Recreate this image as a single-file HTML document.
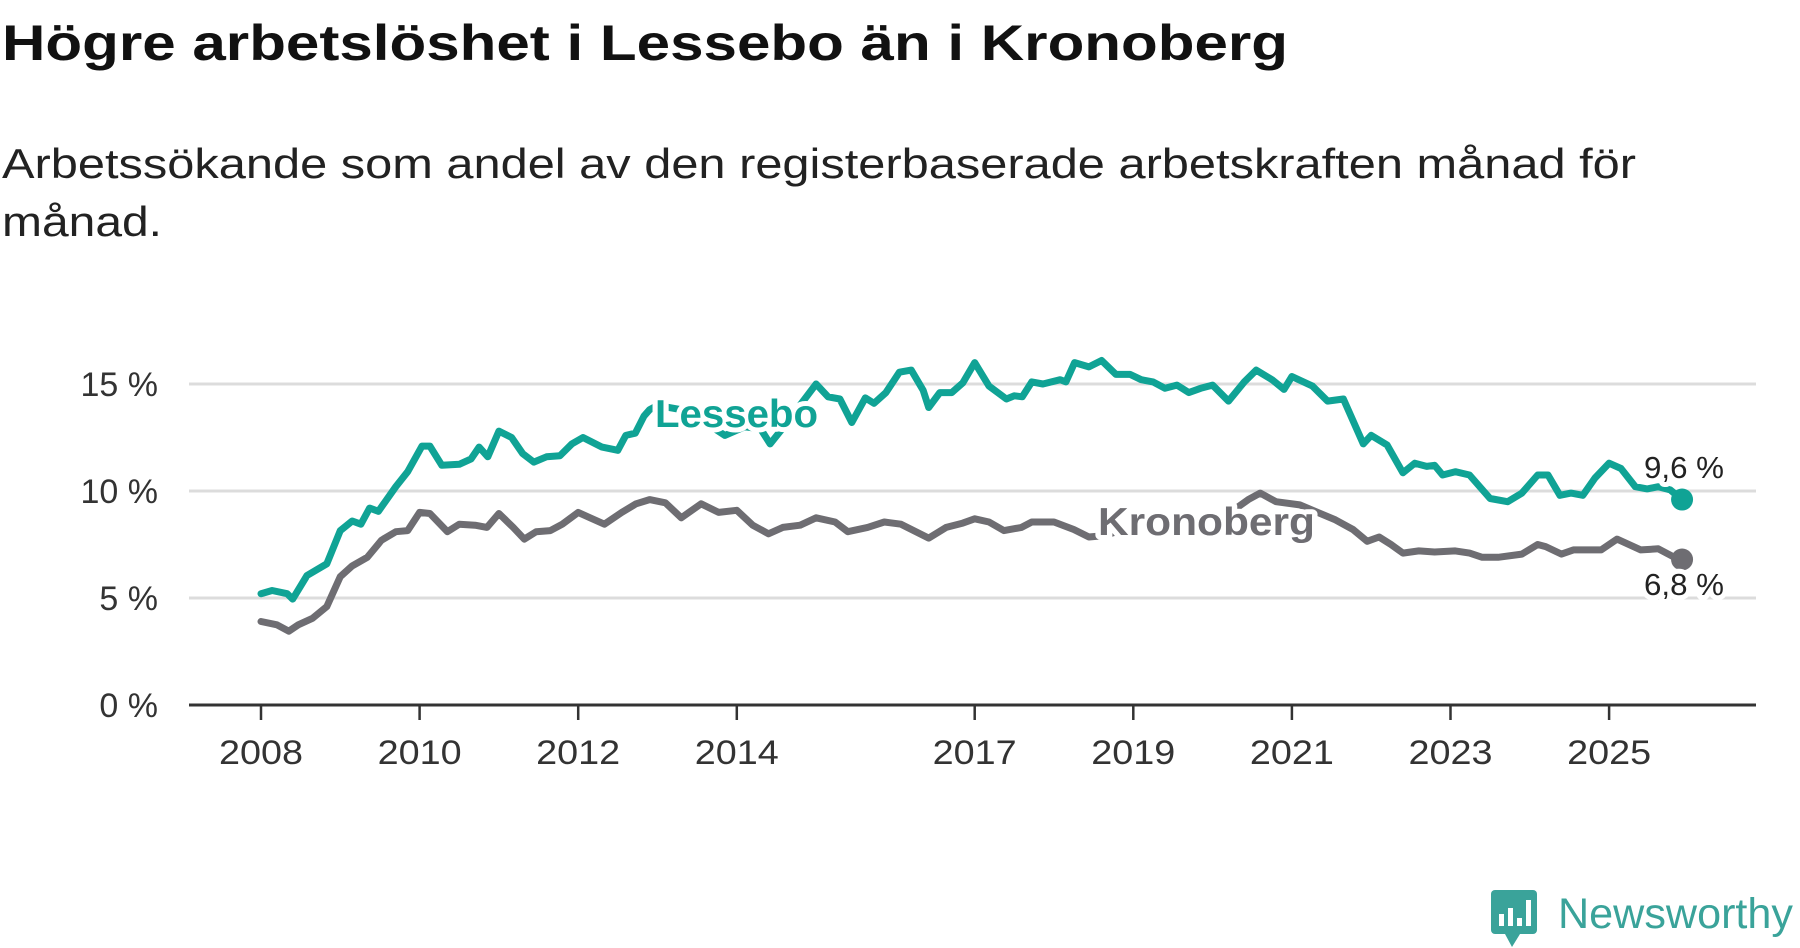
<!DOCTYPE html>
<html><head><meta charset="utf-8"><style>
html,body{margin:0;padding:0;background:#fff;}
svg{display:block;font-family:"Liberation Sans",sans-serif;}
</style></head><body>
<svg id="chart" width="1800" height="948" viewBox="0 0 1800 948">
<text x="2" y="60" font-size="50" font-weight="bold" fill="#111" textLength="1286" lengthAdjust="spacingAndGlyphs">Högre arbetslöshet i Lessebo än i Kronoberg</text>
<text x="2" y="178" font-size="42" fill="#222" textLength="1634" lengthAdjust="spacingAndGlyphs">Arbetssökande som andel av den registerbaserade arbetskraften månad för</text>
<text x="2" y="236" font-size="42" fill="#222" textLength="160" lengthAdjust="spacingAndGlyphs">månad.</text>
<g id="grid"></g><g id="axes"></g><g id="lines"></g><g id="labels"></g>
<g>
<rect x="1491" y="890" width="46" height="44" rx="4" fill="#3aa39a"/>
<polygon points="1505,934 1520,934 1512,947" fill="#3aa39a"/>
<rect x="1499" y="914" width="5" height="12" fill="#fff"/><rect x="1508" y="908" width="5" height="18" fill="#fff"/><rect x="1517" y="918" width="5" height="8" fill="#fff"/><rect x="1526" y="900" width="5" height="26" fill="#fff"/>
<text x="1558" y="928" font-size="43" fill="#3aa39a" textLength="235" lengthAdjust="spacingAndGlyphs">Newsworthy</text>
</g>
</svg>
<script>
const yTicks=[0,5,10,15];
const yTickLabels=["0 %","5 %","10 %","15 %"];
const xTicks=[2008,2010,2012,2014,2017,2019,2021,2023,2025];
const lesseboDates=[2008.0,2008.14,2008.33,2008.4,2008.58,2008.83,2009.0,2009.15,2009.26,2009.37,2009.48,2009.7,2009.85,2010.03,2010.13,2010.28,2010.5,2010.65,2010.75,2010.86,2011.0,2011.16,2011.3,2011.44,2011.6,2011.77,2011.92,2012.06,2012.3,2012.5,2012.6,2012.72,2012.83,2012.9,2013.0,2013.3,2013.6,2013.85,2014.1,2014.3,2014.42,2014.55,2015.0,2015.15,2015.3,2015.45,2015.62,2015.73,2015.88,2016.05,2016.2,2016.35,2016.42,2016.56,2016.71,2016.85,2017.0,2017.18,2017.4,2017.5,2017.6,2017.72,2017.86,2018.08,2018.15,2018.26,2018.44,2018.6,2018.78,2018.96,2019.1,2019.25,2019.4,2019.55,2019.7,2019.85,2020.0,2020.2,2020.4,2020.55,2020.75,2020.9,2021.0,2021.26,2021.45,2021.65,2021.9,2022.0,2022.2,2022.4,2022.55,2022.7,2022.8,2022.9,2023.06,2023.24,2023.5,2023.72,2023.9,2024.1,2024.23,2024.38,2024.52,2024.67,2024.82,2025.0,2025.15,2025.33,2025.48,2025.62,2025.77,2025.92];
const lesseboValues=[5.2,5.35,5.2,4.95,6.05,6.6,8.15,8.6,8.45,9.2,9.05,10.2,10.9,12.1,12.1,11.2,11.25,11.5,12.05,11.6,12.8,12.5,11.75,11.35,11.6,11.65,12.2,12.5,12.05,11.9,12.6,12.7,13.5,13.8,14.0,13.8,13.2,12.6,13.0,12.9,12.2,12.8,15.0,14.4,14.3,13.2,14.35,14.1,14.6,15.55,15.65,14.7,13.9,14.6,14.6,15.05,16.0,14.9,14.3,14.45,14.4,15.1,15.0,15.2,15.1,16.0,15.8,16.1,15.45,15.45,15.2,15.1,14.8,14.95,14.6,14.8,14.95,14.2,15.1,15.65,15.2,14.75,15.35,14.9,14.2,14.3,12.2,12.6,12.15,10.85,11.3,11.15,11.2,10.75,10.9,10.75,9.65,9.5,9.9,10.75,10.75,9.8,9.9,9.8,10.6,11.3,11.05,10.2,10.1,10.2,10.05,9.6];
const kronDates=[2008.0,2008.2,2008.35,2008.47,2008.65,2008.83,2009.0,2009.15,2009.34,2009.52,2009.7,2009.85,2010.0,2010.13,2010.35,2010.5,2010.7,2010.85,2011.0,2011.18,2011.32,2011.47,2011.65,2011.8,2012.0,2012.15,2012.33,2012.55,2012.73,2012.9,2013.1,2013.3,2013.55,2013.77,2014.0,2014.2,2014.4,2014.58,2014.8,2015.0,2015.24,2015.4,2015.65,2015.86,2016.07,2016.42,2016.64,2016.85,2017.0,2017.18,2017.37,2017.59,2017.72,2018.0,2018.25,2018.44,2018.6,2018.9,2019.2,2019.5,2019.8,2020.1,2020.3,2020.45,2020.6,2020.8,2021.1,2021.55,2021.77,2021.95,2022.1,2022.25,2022.4,2022.6,2022.8,2023.06,2023.24,2023.4,2023.6,2023.9,2024.1,2024.2,2024.4,2024.55,2024.9,2025.1,2025.4,2025.62,2025.8,2025.92];
const kronValues=[3.9,3.75,3.45,3.75,4.05,4.6,6.0,6.5,6.9,7.7,8.1,8.15,9.0,8.95,8.1,8.45,8.4,8.3,8.95,8.3,7.75,8.1,8.15,8.45,9.0,8.75,8.45,9.0,9.4,9.6,9.45,8.75,9.4,9.0,9.1,8.4,8.0,8.3,8.4,8.75,8.55,8.1,8.3,8.55,8.45,7.8,8.3,8.5,8.7,8.55,8.15,8.3,8.55,8.55,8.2,7.85,7.9,8.2,8.4,8.2,8.5,8.8,9.2,9.6,9.9,9.5,9.35,8.65,8.2,7.65,7.85,7.5,7.1,7.2,7.15,7.2,7.1,6.9,6.9,7.05,7.5,7.4,7.05,7.25,7.25,7.75,7.25,7.3,6.95,6.8];
const NS="http://www.w3.org/2000/svg";
const xScale=y=>261+(y-2008)*79.3;
const yScale=v=>705-v*21.4;
function mk(tag,attrs,parent){const e=document.createElementNS(NS,tag);for(const k in attrs)e.setAttribute(k,attrs[k]);parent.appendChild(e);return e;}
const grid=document.getElementById('grid'),axes=document.getElementById('axes'),lines=document.getElementById('lines'),labels=document.getElementById('labels');
yTicks.forEach((t,i)=>{
  if(t>0){const g=mk('line',{x1:189,x2:1756,y1:yScale(t),y2:yScale(t),stroke:'#dcdcdc','stroke-width':3},grid);
  
  }
  const tx=mk('text',{x:158,y:yScale(t)+12,'text-anchor':'end','font-size':34,fill:'#333'},axes);
  tx.textContent=yTickLabels[i];
  
  
});
const ax=mk('line',{x1:189,x2:1756,y1:705,y2:705,stroke:'#333','stroke-width':3},axes);


xTicks.forEach(t=>{
  const tk=mk('line',{x1:xScale(t),x2:xScale(t),y1:705,y2:720,stroke:'#333','stroke-width':2.5},axes);
  
  
  const tx=mk('text',{x:xScale(t),y:764,'text-anchor':'middle','font-size':34,fill:'#333',textLength:84,lengthAdjust:'spacingAndGlyphs'},axes);
  tx.textContent=String(t);
  
  
});
function drawLine(dates,vals,color,name){
  const d=dates.map((x,i)=>(i?'L':'M')+xScale(x).toFixed(1)+','+yScale(vals[i]).toFixed(1)).join(' ');
  const p=mk('path',{d:d,fill:'none',stroke:color,'stroke-width':7,'stroke-linejoin':'round','stroke-linecap':'round'},lines);
  
  
  const n=dates.length-1;
  const c=mk('circle',{cx:xScale(dates[n]),cy:yScale(vals[n]),r:11,fill:color},lines);
  
  
}
drawLine(kronDates,kronValues,'#6e6d72','kronoberg');
drawLine(lesseboDates,lesseboValues,'#10a395','lessebo');
function lab(x,y,txt,color,size,weight,name,anchor,len){
  const t=mk('text',{x:x,y:y,'font-size':size,'font-weight':weight,fill:color,stroke:'#fff','stroke-width':10,'paint-order':'stroke','stroke-linejoin':'round','text-anchor':anchor||'start',textLength:len,lengthAdjust:'spacingAndGlyphs'},labels);
  t.textContent=txt;
  
  
}
lab(655,427,'Lessebo','#10a395',39,'bold','lessebo-label','start',163);
lab(1098,535,'Kronoberg','#6e6d72',39,'bold','kronoberg-label','start',217);
lab(1684,478,'9,6 %','#222',31,'normal','lessebo-end-value','middle',80);
lab(1684,595,'6,8 %','#222',31,'normal','kronoberg-end-value','middle',80);
</script>
</body></html>
